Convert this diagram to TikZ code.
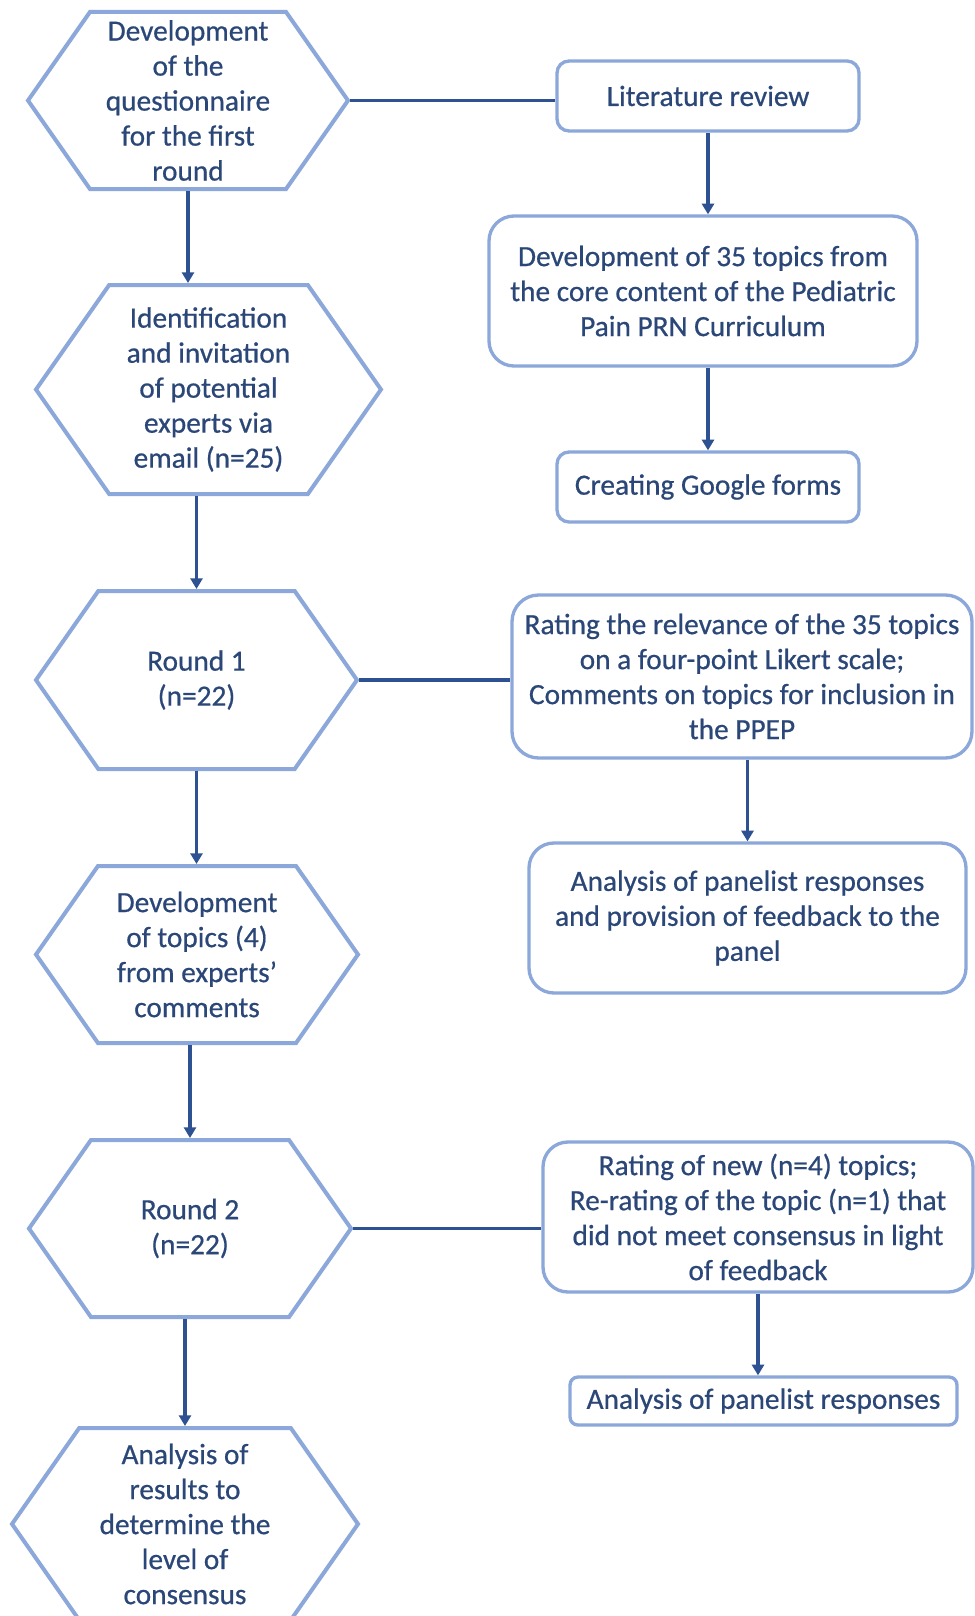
\documentclass[tikz,border=0pt]{standalone}
\usepackage{fontspec}
\setmainfont{Carlito}[FakeBold=0.6]
\usepackage{xcolor}
\definecolor{inkBlue}  {HTML}{2B4778}
\definecolor{edgeBlue} {HTML}{8CA8DA}
\definecolor{linkBlue} {HTML}{2E5191}
\usetikzlibrary{arrows.meta, shapes.symbols}

\begin{document}
\begin{tikzpicture}[
    x=0.75pt, y=-0.75pt,
    every node/.style={font=\fontsize{22}{26.25}\selectfont, text=inkBlue, align=center},
    hexa/.style={shape=signal, signal to=west and east, signal pointer angle=110,
                 draw=edgeBlue, line width=3pt, inner sep=0pt},
    rbox/.style={draw=edgeBlue, line width=2.5pt, inner sep=0pt},
    link/.style={draw=linkBlue, line width=2.6pt},
    flow/.style={link, -{Triangle[length=8pt, width=9pt]}}
]
\path[use as bounding box, fill=white] (0,0) rectangle (974,1616);
% Left column
\node[hexa, minimum width=240pt, minimum height=132.75pt] (h1) at (188,100.5)
    {Development\\of the\\questionnaire\\for the first\\round};
\node[hexa, minimum width=258.75pt, minimum height=156.75pt] (h2) at (208.5,389.5)
    {Identification\\and invitation\\of potential\\experts via\\email (n=25)};
\node[hexa, minimum width=240.75pt, minimum height=133.5pt] (h3) at (196.5,680)
    {Round 1\\(n=22)};
\node[hexa, minimum width=241.5pt, minimum height=132.75pt] (h4) at (197,954.5)
    {Development\\of topics (4)\\from experts’\\comments};
\node[hexa, minimum width=241.5pt, minimum height=132.75pt] (h5) at (190,1228.5)
    {Round 2\\(n=22)};
\node[hexa, minimum width=259.5pt, minimum height=144pt] (h6) at (185,1524)
    {Analysis of\\results to\\determine the\\level of\\consensus};
% Right column
\node[rbox, rounded corners=9pt, minimum width=226.5pt, minimum height=52.5pt] (lit) at (708,96)
    {Literature review};
\node[rbox, rounded corners=18.75pt, minimum width=321pt, minimum height=112.5pt] (dev35) at (703,291)
    {Development of 35 topics from\\the core content of the Pediatric\\Pain PRN Curriculum};
\node[rbox, rounded corners=9pt, minimum width=226.5pt, minimum height=52.5pt] (forms) at (708,487)
    {Creating Google forms};
\node[rbox, rounded corners=20pt, minimum width=345pt, minimum height=122.25pt] (rate1) at (742,676.5)
    {Rating the relevance of the 35 topics\\on a four-point Likert scale;\\Comments on topics for inclusion in\\the PPEP};
\node[rbox, rounded corners=18.75pt, minimum width=327.75pt, minimum height=112.5pt] (anal1) at (747.5,918)
    {Analysis of panelist responses\\and provision of feedback to the\\panel};
\node[rbox, rounded corners=18.75pt, minimum width=322.5pt, minimum height=112.5pt] (rate2) at (758,1217)
    {Rating of new (n=4) topics;\\Re-rating of the topic (n=1) that\\did not meet consensus in light\\of feedback};
\node[rbox, rounded corners=6pt, minimum width=290.25pt, minimum height=36pt] (anal2) at (763.5,1401)
    {Analysis of panelist responses};
% Horizontal links
\draw[link] (h1.east) -- (h1.east -| lit.west);
\draw[link] (h3.east) -- (h3.east -| rate1.west);
\draw[link] (h5.east) -- (h5.east -| rate2.west);
% Arrows
\draw[flow] (h1.south) -- (h1.south |- h2.north);
\draw[flow] (h3.north |- h2.south) -- (h3.north);
\draw[flow] (h3.south) -- (h3.south |- h4.north);
\draw[flow] (h5.north |- h4.south) -- (h5.north);
\draw[flow] (h6.north |- h5.south) -- (h6.north);
\draw[flow] (lit.south) -- (lit.south |- dev35.north);
\draw[flow] (forms.north |- dev35.south) -- (forms.north);
\draw[flow] (anal1.north |- rate1.south) -- (anal1.north);
\draw[flow] (rate2.south) -- (rate2.south |- anal2.north);
\end{tikzpicture}
\end{document}
